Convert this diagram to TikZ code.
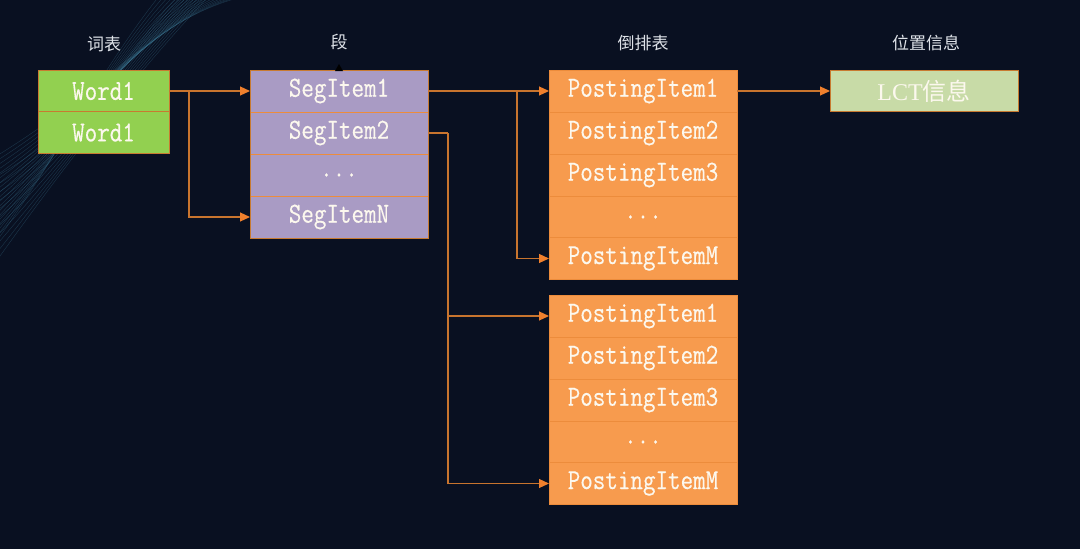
\documentclass[tikz,border=0pt]{standalone}
\usepackage{fontspec}
\usetikzlibrary{arrows.meta,calc}
\newfontfamily\monof[FakeStretch=0.84,FakeBold=0.4]{Latin Modern Mono}
\newfontfamily\cjkf{Noto Sans CJK SC}
\newfontfamily\serf{Liberation Serif}
\definecolor{bgc}{RGB}{9,16,33}
\definecolor{greenc}{RGB}{146,208,80}
\definecolor{purplec}{RGB}{169,155,196}
\definecolor{orangec}{RGB}{247,155,78}
\definecolor{lctc}{RGB}{200,219,167}
\definecolor{borderc}{RGB}{200,122,48}
\definecolor{sepc}{RGB}{236,140,60}
\definecolor{connc}{RGB}{200,116,46}
\definecolor{arrc}{RGB}{240,128,45}
\definecolor{txtc}{RGB}{252,248,238}
\definecolor{lblc}{RGB}{222,226,232}
\definecolor{wavec}{RGB}{70,140,170}
\begin{document}
\begin{tikzpicture}[x=1pt,y=-1pt,
  cell/.style={draw=sepc,line width=0.9pt,minimum height=42pt,inner sep=0pt,outer sep=0pt,
    text=txtc,font=\monof\fontsize{29}{29}\selectfont},
  wcell/.style={cell,fill=greenc,draw=borderc,minimum width=131pt},
  scell/.style={cell,fill=purplec,draw=sepc,minimum width=178pt},
  pcell/.style={cell,fill=orangec,draw=sepc,minimum width=188pt},
  lbl/.style={text=lblc,font=\cjkf\fontsize{17}{17}\selectfont,inner sep=0pt},
  conn/.style={draw=connc,line width=1.2pt},
  arr/.style={conn,-{Triangle[length=10pt,width=9pt,color=arrc]}}
]
\useasboundingbox (0,0) rectangle (1080,549);
\fill[bgc] (0,0) rectangle (1080,549);
% faint background waves
\begin{scope}[draw=wavec,line width=0.4pt,opacity=0.3]
\foreach \i in {0,...,18}{
  \draw (-10,{250-5*\i}) .. controls ({50+4*\i},{170-5*\i}) and ({100+3*\i},{70-3*\i}) .. ({160+5*\i},-5);
}
\foreach \i in {0,...,10}{
  \draw (-10,{270-9*\i}) .. controls ({40+6*\i},{200-8*\i}) and ({120+2*\i},{90-6*\i}) .. ({210-3*\i},-5);
}
\end{scope}
% labels
\node[lbl] (lw) at (104,44) {词表};
\node[lbl] (ls) at (339,42) {段};
\node[lbl] (lp) at (643,43) {倒排表};
\node[lbl] (ll) at (926,43) {位置信息};
% word table
\node[wcell] (w1) at (103.5,91) {Word1};
\node[wcell] (w2) at (103.5,132.5) {Word1};
% segment table
\node[scell] (s1) at (339,91) {SegItem1};
\node[scell] (s2) at (339,133) {SegItem2};
\node[scell] (s3) at (339,175) {...};
\node[scell] (s4) at (339,217) {SegItemN};
\draw[borderc,line width=0.9pt] (s1.north west) rectangle (s4.south east);
\fill[black] (335,71) -- (343,71) -- (339,64) -- cycle;
% posting list 1
\node[pcell] (p1) at (643,91) {PostingItem1};
\node[pcell] (p2) at (643,133) {PostingItem2};
\node[pcell] (p3) at (643,175) {PostingItem3};
\node[pcell] (p4) at (643,217) {...};
\node[pcell] (p5) at (643,258.5) {PostingItemM};
% posting list 2
\node[pcell] (q1) at (643,316) {PostingItem1};
\node[pcell] (q2) at (643,358) {PostingItem2};
\node[pcell] (q3) at (643,400) {PostingItem3};
\node[pcell] (q4) at (643,442) {...};
\node[pcell] (q5) at (643,483.5) {PostingItemM};
% LCT
\node[cell,fill=lctc,draw=borderc,minimum width=188pt,minimum height=41pt,font=\fontsize{24}{24}\selectfont] (lct) at (924,91) {\serf LCT\cjkf 信息};
% connectors
\draw[arr] (w1.east) -- (s1.west);
\draw[arr] ([xshift=20pt]w1.east) |- (s4.west);
\draw[arr] (s1.east) -- (p1.west);
\draw[arr] ([xshift=-32pt]p1.west) |- (p5.west);
\draw[conn] (s2.east) -- ([xshift=20pt]s2.east);
\draw[arr] ([xshift=20pt]s2.east) |- (q1.west);
\draw[arr] ([xshift=20pt]s2.east) |- (q5.west);
\draw[arr] (p1.east) -- (lct.west);
\end{tikzpicture}
\end{document}
